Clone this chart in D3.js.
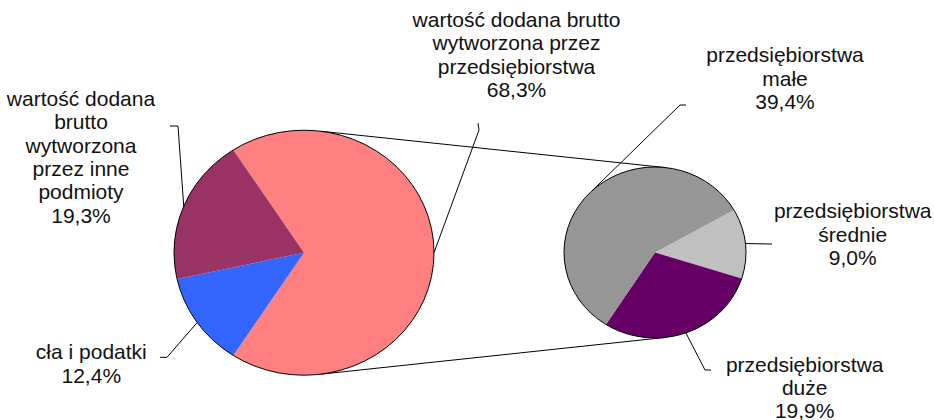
<!DOCTYPE html>
<meta charset="utf-8">
<style>
body { margin: 0; background: #fff; }
text {
  font-family: Arial, 'Liberation Sans', sans-serif;
  font-size: 21px;
  fill: #111;
  text-anchor: middle;
}
.lead { fill: none; stroke: #000; stroke-width: 1px; }
</style>
<body>
<svg width="934" height="420"></svg>
<script src="https://d3js.org/d3.v7.min.js"></script>
<script>

// main pie: share of total
var mainLabels = [
  ["wartość dodana brutto", "wytworzona przez", "przedsiębiorstwa", "68,3%"],
  ["cła i podatki", "12,4%"],
  ["wartość dodana", "brutto", "wytworzona", "przez inne", "podmioty", "19,3%"]
];
var mainValues = [68.3, 12.4, 19.3];
var mainColors = ["#FF8080", "#3366FF", "#993366"];

// secondary pie: breakdown of the first slice
var subLabels = [
  ["przedsiębiorstwa", "średnie", "9,0%"],
  ["przedsiębiorstwa", "duże", "19,9%"],
  ["przedsiębiorstwa", "małe", "39,4%"]
];
var subValues = [9.0, 19.9, 39.4];
var subColors = ["#C0C0C0", "#660066", "#969696"];

var svg = d3.select("svg");
var rad = Math.PI / 180;

var main = {cx: 304, cy: 252.7, rx: 130, ry: 122.5},
    sub  = {cx: 655, cy: 252.5, rx: 91,  ry: 85.5};

// point on ellipse, angle clockwise from 12 o'clock
function pt(p, a) {
  return [p.cx + p.rx * Math.sin(a), p.cy - p.ry * Math.cos(a)];
}

var mainStart = Math.PI / 2 - (mainValues[0] / d3.sum(mainValues)) * Math.PI;
var mainArcs = d3.pie().sort(null)
  .startAngle(mainStart).endAngle(mainStart + 2 * Math.PI)(mainValues);

var subStart = 84 * rad - (subValues[0] / d3.sum(subValues)) * Math.PI;
var subArcs = d3.pie().sort(null)
  .startAngle(subStart).endAngle(subStart + 2 * Math.PI)(subValues);

function drawPie(p, arcs, colors) {
  var g = svg.append("g")
    .attr("transform", "translate(" + p.cx + "," + p.cy + ") scale(1," + (p.ry / p.rx) + ")");
  var arc = d3.arc().innerRadius(0).outerRadius(p.rx);
  g.selectAll("path.slice")
    .data(arcs)
    .enter().append("path")
    .attr("class", "slice")
    .attr("d", arc)
    .attr("fill", function(d, i) { return colors[i]; });
  g.append("circle")
    .attr("r", p.rx)
    .attr("fill", "none")
    .attr("stroke", "#000")
    .attr("stroke-width", 1)
    .attr("vector-effect", "non-scaling-stroke");
}

// connector lines between the two pies
var line = d3.line();
svg.append("path").attr("class", "lead")
  .attr("d", line([pt(main, 7.4 * rad), pt(sub, 7.4 * rad)]));
svg.append("path").attr("class", "lead")
  .attr("d", line([pt(main, 172.6 * rad), pt(sub, 173.7 * rad)]));

drawPie(main, mainArcs, mainColors);
drawPie(sub, subArcs, subColors);

function mid(d) { return (d.startAngle + d.endAngle) / 2; }

// leader lines: label end -> elbow -> slice edge
var mainLeads = [
  [[478, 123], [479, 130]],
  [[160, 357.3], [167, 357.3]],
  [[170, 126], [178, 126]]
];
var subLeads = [
  [[772, 244]],
  [[711, 370], [705, 370]],
  [[686, 105], [680, 105]]
];

mainArcs.forEach(function(d, i) {
  svg.append("path").attr("class", "lead")
    .attr("d", line(mainLeads[i].concat([pt(main, mid(d))])));
});
subArcs.forEach(function(d, i) {
  svg.append("path").attr("class", "lead")
    .attr("d", line(subLeads[i].concat([pt(sub, mid(d))])));
});

// labels
var mainPos = [[516.5, 27], [91.3, 359.3], [81, 106]];
var subPos = [[852.7, 218.3], [804.7, 371.7], [785, 62.3]];

function drawLabel(lines, pos) {
  var t = svg.append("text").attr("x", pos[0]).attr("y", pos[1]);
  lines.forEach(function(s, k) {
    t.append("tspan").attr("x", pos[0]).attr("y", pos[1] + k * 23.3).text(s);
  });
}
mainLabels.forEach(function(l, i) { drawLabel(l, mainPos[i]); });
subLabels.forEach(function(l, i) { drawLabel(l, subPos[i]); });

</script>
</body>
